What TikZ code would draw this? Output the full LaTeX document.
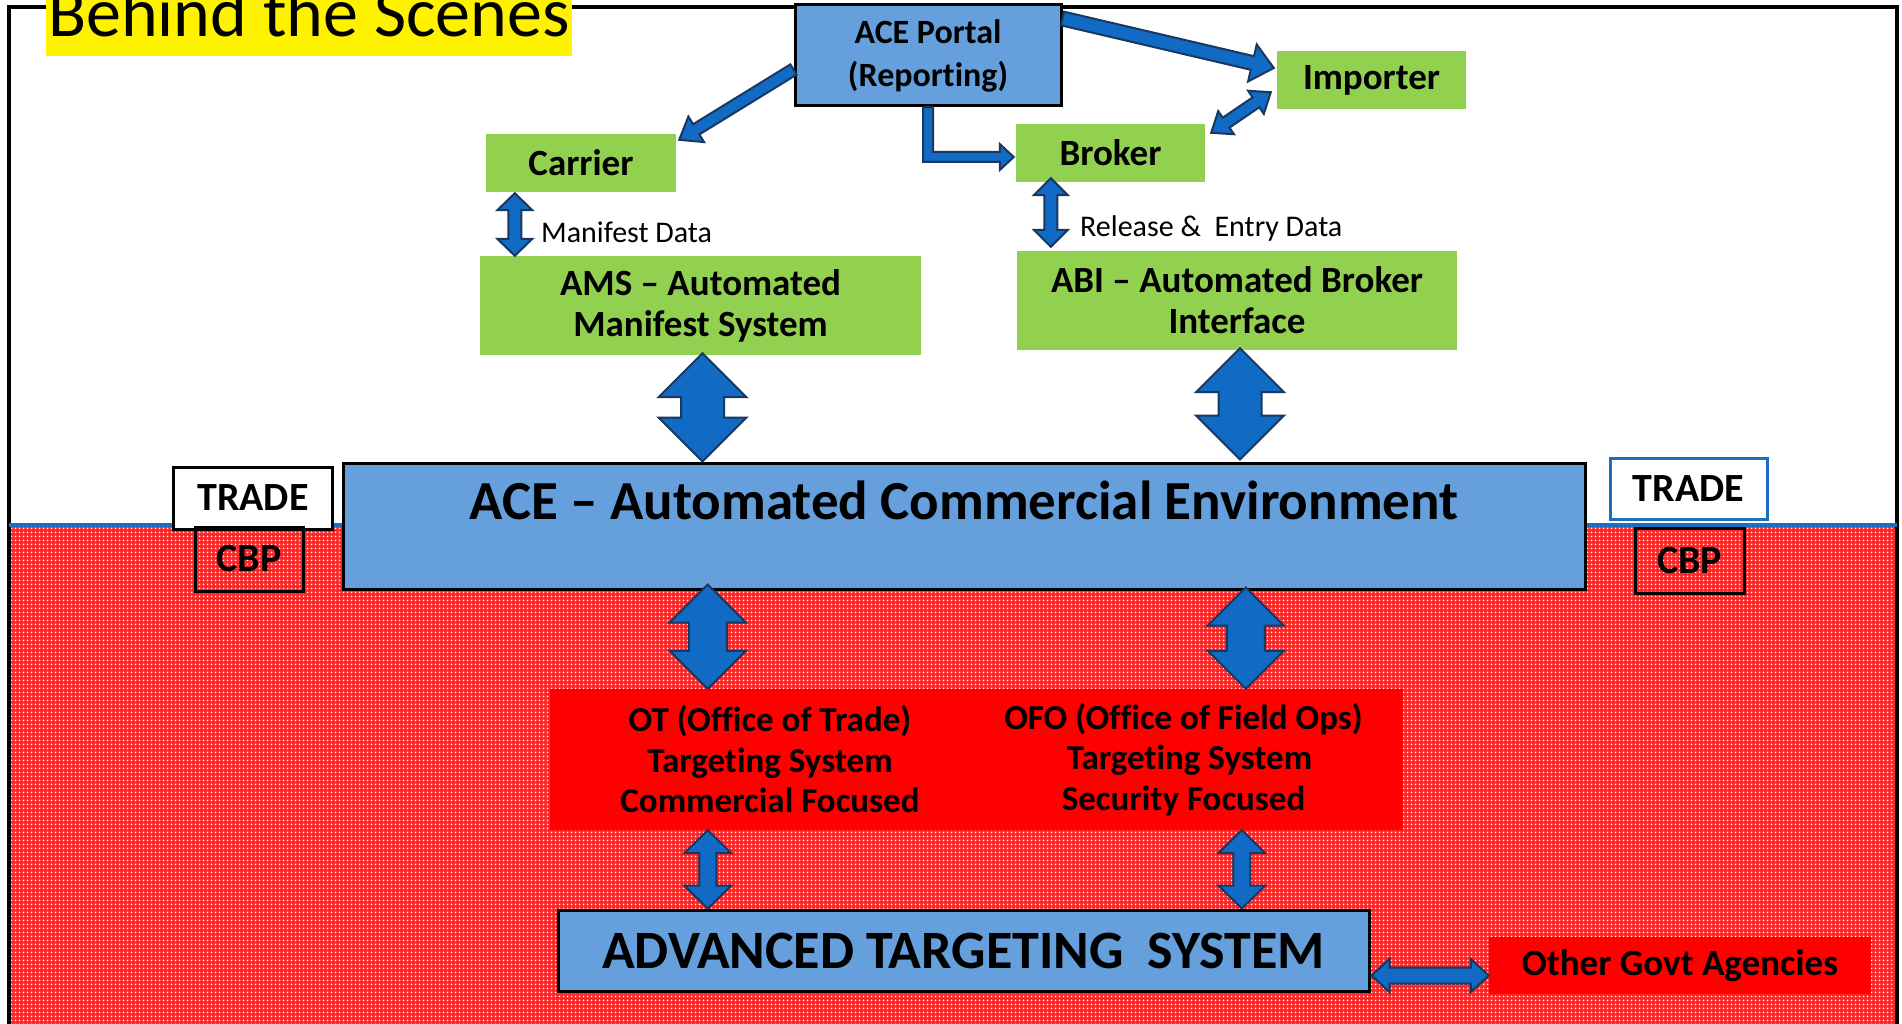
\documentclass[tikz,border=0pt]{standalone}
\usepackage{fontspec}
\setmainfont{Carlito}[Ligatures=NoCommon]
\usetikzlibrary{calc,patterns.meta}

\definecolor{boxblue}{RGB}{101,159,220}
\definecolor{boxgreen}{RGB}{146,208,80}
\definecolor{arrowblue}{RGB}{17,106,196}
\definecolor{arrownavy}{RGB}{24,56,96}
\definecolor{lineblue}{RGB}{28,111,192}

\tikzset{
  greenbox/.style={fill=boxgreen, inner sep=0pt, align=center, font=\bfseries\fontsize{37}{41}\selectfont},
  bluebox/.style={fill=boxblue, draw=black, line width=3pt, inner sep=0pt, align=center},
  redbox/.style={fill=red, inner sep=0pt, align=center, font=\bfseries\fontsize{35}{40.5}\selectfont},
  tagbox/.style={draw=black, line width=3pt, inner sep=0pt, font=\bfseries\fontsize{40}{44}\selectfont},
  titlebox/.style={fill=yellow, inner xsep=2pt, inner ysep=0pt, text height=60pt, text depth=19pt, font=\fontsize{70}{70}\selectfont},
  datalabel/.style={anchor=west, inner sep=0pt, font=\fontsize{30}{34}\selectfont},
  barrow/.style={fill=arrowblue, draw=arrownavy, line width=2pt}
}

% double block arrow: from, to, head length, shaft half width, head half width
\newcommand{\dblarr}[6][]{%
  \coordinate (da) at ($(#2)!#4!(#3)$);
  \coordinate (db) at ($(#3)!#4!(#2)$);
  \draw[barrow,#1] (#2) -- ($(da)!#6!-90:(#3)$) -- ($(da)!#5!-90:(#3)$) -- ($(db)!#5!90:(#2)$)
    -- ($(db)!#6!90:(#2)$) -- (#3) -- ($(db)!#6!-90:(#2)$) -- ($(db)!#5!-90:(#2)$)
    -- ($(da)!#5!90:(#3)$) -- ($(da)!#6!90:(#3)$) -- cycle;}
% single block arrow
\newcommand{\sglarr}[6][]{%
  \coordinate (db) at ($(#3)!#4!(#2)$);
  \draw[barrow,#1] ($(#2)!#5!-90:(#3)$) -- ($(db)!#5!90:(#2)$) -- ($(db)!#6!90:(#2)$) -- (#3)
    -- ($(db)!#6!-90:(#2)$) -- ($(db)!#5!-90:(#2)$) -- ($(#2)!#5!90:(#3)$) -- cycle;}

\begin{document}
\begin{tikzpicture}[x=1pt,y=-1pt]
\useasboundingbox (0,0) rectangle (1902,1024);
\clip (0,0) rectangle (1902,1024);

% CBP side and frame
\fill[red!85!white] (9,525) rectangle (1897,1030);
\fill[pattern={Dots[distance=4pt, radius=1.1pt]}, pattern color=white] (9,525) rectangle (1897,1030);
\draw[line width=4pt] (9,1030) -- (9,7) -- (1897,7) -- (1897,1030);
\draw[lineblue, line width=4pt] (9,525) -- (1897,525);

\node[titlebox, anchor=south west] (title) at (46,56) {Behind the Scenes};

% trade side
\node[bluebox, minimum width=266pt, minimum height=101pt, font=\bfseries\fontsize{34}{43}\selectfont] (portal) at (928,55.5) {ACE Portal\\(Reporting)};
\node[greenbox, minimum width=189pt, minimum height=58pt] (importer) at (1371.5,80) {Importer};
\node[greenbox, minimum width=189pt, minimum height=58pt] (broker) at (1110.5,153) {Broker};
\node[greenbox, minimum width=190pt, minimum height=58pt] (carrier) at (581,163) {Carrier};
\node[greenbox, minimum width=441pt, minimum height=99pt] (ams) at (700.5,305.5) {AMS -- Automated\\Manifest System};
\node[greenbox, minimum width=440pt, minimum height=99pt] (abi) at (1237,300.5) {ABI -- Automated Broker\\Interface};
\node[datalabel] (manlbl) at (541,232) {Manifest Data};
\node[datalabel] (rellbl) at (1080,229) {Release \&~ Entry Data};

\node[bluebox, minimum width=1242pt, minimum height=126pt, font=\bfseries\fontsize{55}{60}\selectfont, text height=38pt, text depth=52pt] (ace) at (964,526) {ACE -- Automated Commercial Environment};

\node[tagbox, fill=white, minimum width=159pt, minimum height=62pt] (tradeL) at (253,498) {TRADE};
\node[tagbox, minimum width=108pt, minimum height=64pt] (cbpL) at (249,559) {CBP};
\node[tagbox, draw=lineblue, fill=white, minimum width=157pt, minimum height=61pt] (tradeR) at (1688.5,488.5) {TRADE};
\node[tagbox, minimum width=109pt, minimum height=65pt] (cbpR) at (1689.5,560.5) {CBP};

% cbp side
\node[redbox, minimum width=426pt, minimum height=141pt] (ot) at (763,759.5) {\hspace*{14pt}OT (Office of Trade)\\\hspace*{14pt}Targeting System\\\hspace*{14pt}Commercial Focused};
\node[redbox, minimum width=427pt, minimum height=141pt] (ofo) at (1189.5,759.5) {OFO (Office of Field Ops)\hspace*{12pt}\\Targeting System\hspace*{12pt}\\Security Focused\hspace*{12pt}};
\node[bluebox, minimum width=811pt, minimum height=81pt, font=\bfseries\fontsize{54}{60}\selectfont] (ats) at (963.5,950.5) {ADVANCED TARGETING~ SYSTEM};
\node[redbox, minimum width=382pt, minimum height=57pt, font=\bfseries\fontsize{37}{41}\selectfont] (oga) at (1680,965.5) {Other Govt Agencies};

% arrows
\coordinate (p1) at ($(portal.west)+(0,14)$);
\coordinate (p2) at ($(carrier.north east)+(3,6)$);
\sglarr{p1}{p2}{20pt}{6pt}{15pt}
\coordinate (p3) at ($(portal.north east)+(0,15)$);
\coordinate (p4) at ($(importer.west)+(-3,-12)$);
\sglarr{p3}{p4}{22pt}{7pt}{19pt}
\coordinate (b1) at ($(broker.north east)+(6,9)$);
\coordinate (b2) at ($(importer.south west)+(-6,-17)$);
\dblarr{b1}{b2}{18pt}{6pt}{14pt}
\coordinate (e0) at (portal.south);
\coordinate (e1) at ($(broker.west)+(-2,4)$);
\coordinate (ec) at (e0 |- e1);
\draw[barrow] ($(e0)+(-5,0)$) -- ($(ec)+(-5,5)$) -- ($(e1)+(-14,5)$) -- ($(e1)+(-14,13)$) -- (e1)
  -- ($(e1)+(-14,-13)$) -- ($(e1)+(-14,-5)$) -- ($(ec)+(5,-5)$) -- ($(e0)+(5,0)$) -- cycle;

\coordinate (m1) at ($(carrier.south west)+(29,1)$);
\coordinate (m2) at (m1 |- ams.north);
\dblarr{m1}{m2}{17pt}{6.5pt}{17.5pt}
\coordinate (r1) at ($(broker.south west)+(35,-4)$);
\coordinate (r2) at ($(r1 |- abi.north)+(0,-4)$);
\dblarr{r1}{r2}{17pt}{6.5pt}{17pt}

\coordinate (a1) at ($(ams.south)+(2,-2)$);
\coordinate (a2) at (a1 |- ace.north);
\dblarr{a1}{a2}{44pt}{21.5pt}{44pt}
\coordinate (a3) at ($(abi.south)+(3,-2)$);
\coordinate (a4) at ($(a3 |- ace.north)+(0,-2)$);
\dblarr{a3}{a4}{44pt}{21.5pt}{44pt}

\coordinate (o1) at ($(ot.north west)+(158,0)$);
\coordinate (o0) at ($(o1 |- ace.south)+(0,-6)$);
\dblarr{o0}{o1}{38pt}{19pt}{38pt}
\coordinate (f1) at ($(ofo.north west)+(270,0)$);
\coordinate (f0) at ($(f1 |- ace.south)+(0,-3)$);
\dblarr{f0}{f1}{38pt}{19pt}{38pt}

\coordinate (o2) at (o1 |- ot.south);
\coordinate (o3) at (o1 |- ats.north);
\dblarr{o2}{o3}{23pt}{8.5pt}{23.5pt}
\coordinate (f2) at ($(ofo.south west)+(266,0)$);
\coordinate (f3) at (f2 |- ats.north);
\dblarr{f2}{f3}{23pt}{8.5pt}{23.5pt}

\coordinate (g1) at ($(ats.east)+(1,25)$);
\coordinate (g2) at (g1 -| oga.west);
\dblarr{g1}{g2}{18pt}{8pt}{16.5pt}
\end{tikzpicture}
\end{document}
